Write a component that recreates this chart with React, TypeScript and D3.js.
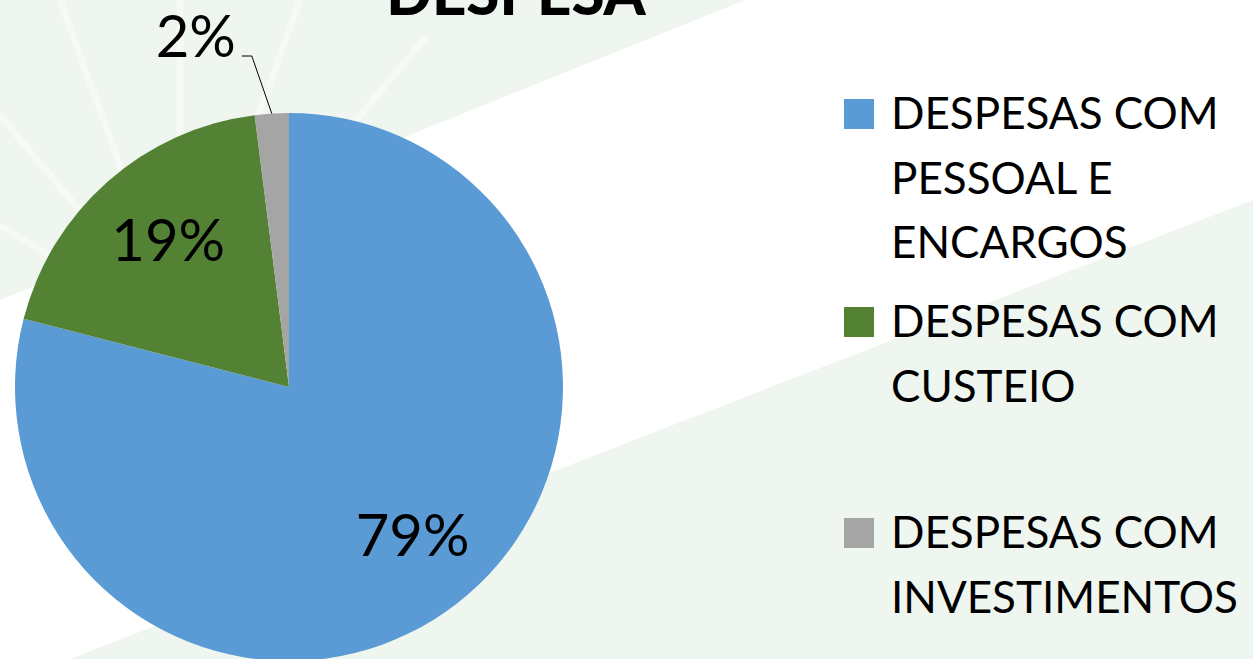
import React from "react";
import * as d3 from "d3";

const categories = [
  "DESPESAS COM PESSOAL E ENCARGOS",
  "DESPESAS COM CUSTEIO",
  "DESPESAS COM INVESTIMENTOS",
];
const values = [79, 19, 2];
const labels = ["79%", "19%", "2%"];
const legendLines = [
  ["DESPESAS COM", "PESSOAL E", "ENCARGOS"],
  ["DESPESAS COM", "CUSTEIO"],
  ["DESPESAS COM", "INVESTIMENTOS"],
];
const colors = ["#5B9BD5", "#548235", "#A5A5A5"];
const title = "DESPESA";

const W = 1253;
const H = 659;
const FONT = "Lato, 'Open Sans', sans-serif";

export default function App() {
  const cx = 289;
  const cy = 387;
  const R = 274;
  const pie = d3.pie<number>().sort(null).value((d) => d)(values);
  const arc = d3.arc<d3.PieArcDatum<number>>().innerRadius(0).outerRadius(R);
  const labelArc = d3
    .arc<d3.PieArcDatum<number>>()
    .innerRadius(R * 0.7)
    .outerRadius(R * 0.7);

  const legendBaselines = [
    [129, 194, 258],
    [337, 402],
    [548, 613],
  ];

  return (
    <svg
      width={W}
      height={H}
      style={{ position: "absolute", left: 0, top: 0, background: "#fff" }}
    >
      <rect x={0} y={0} width={W} height={H} fill="#ffffff" />
      <polygon points={`0,0 745,0 0,300`} fill="#EFF5EF" />
      <polygon points={`70,${H} ${W},200 ${W},${H}`} fill="#EFF5EF" />
      <g opacity={0.45} stroke="#ffffff" strokeWidth={7} strokeLinecap="round">
        {[-60, -40, -20, 0, 20, 40].map((a, i) => {
          const rad = (a * Math.PI) / 180;
          return (
            <line
              key={i}
              x1={180 + Math.sin(rad) * 120}
              y1={330 - Math.cos(rad) * 120}
              x2={180 + Math.sin(rad) * 380}
              y2={330 - Math.cos(rad) * 380}
            />
          );
        })}
      </g>
      <text
        x={516}
        y={15}
        textAnchor="middle"
        fontFamily={FONT}
        fontWeight={900}
        fontSize={60}
        fill="#000"
      >
        {title}
      </text>
      <g transform={`translate(${cx},${cy})`}>
        {pie.map((d, i) => (
          <path key={categories[i]} d={arc(d) || ""} fill={colors[i]} />
        ))}
        {pie.map((d, i) => {
          if (d.data < 5) {
            const mid = (d.startAngle + d.endAngle) / 2;
            const ex = Math.sin(mid) * R;
            const ey = -Math.cos(mid) * R;
            const elbowX = ex - 20;
            const elbowY = -R * 1.208;
            return (
              <g key={"l" + i}>
                <polyline
                  points={`${ex},${ey} ${elbowX},${elbowY} ${elbowX - 10},${elbowY}`}
                  fill="none"
                  stroke="#000"
                  strokeWidth={1}
                />
                <text
                  x={elbowX - 16}
                  y={elbowY + 1}
                  textAnchor="end"
                  fontFamily={FONT}
                  fontSize={58}
                  fill="#000"
                >
                  {labels[i]}
                </text>
              </g>
            );
          }
          const [lx, ly] = labelArc.centroid(d);
          return (
            <text
              key={"l" + i}
              x={lx + 6}
              y={ly}
              dy="0.3em"
              textAnchor="middle"
              fontFamily={FONT}
              fontSize={58}
              fill="#000"
            >
              {labels[i]}
            </text>
          );
        })}
      </g>
      <g>
        {legendLines.map((lines, i) => (
          <g key={"lg" + i}>
            <rect
              x={844}
              y={legendBaselines[i][0] - 30}
              width={30}
              height={30}
              fill={colors[i]}
            />
            {lines.map((t, j) => (
              <text
                key={j}
                x={891}
                y={legendBaselines[i][j]}
                fontFamily={FONT}
                fontSize={44}
                fill="#000"
              >
                {t}
              </text>
            ))}
          </g>
        ))}
      </g>
    </svg>
  );
}
